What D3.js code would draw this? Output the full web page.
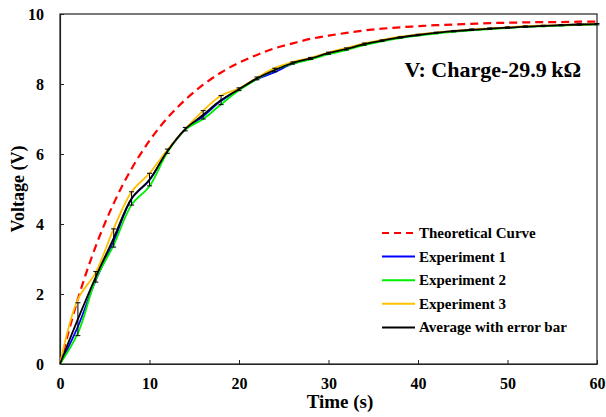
<!DOCTYPE html>
<html>
<head>
<meta charset="utf-8">
<script src="https://cdn.jsdelivr.net/npm/d3@7"></script>
<style>
  body { margin: 0; background: #fff; }
  text { font-family: "Liberation Serif", "Times New Roman", serif; font-weight: bold; fill: #000; }
</style>
</head>
<body>
<svg id="chart" width="606" height="417"></svg>
<script>
// values, one point every 2 s
const times = d3.range(0, 61, 2);
const theory = [0, 1.86, 3.37, 4.59, 5.58, 6.38, 7.03, 7.55, 7.98, 8.33, 8.61, 8.83, 9.02, 9.16, 9.29, 9.38,
  9.46, 9.53, 9.58, 9.62, 9.65, 9.68, 9.70, 9.72, 9.74, 9.75, 9.76, 9.77, 9.77, 9.78, 9.78];
const exp1 = [0, 1.07, 2.4, 3.5, 4.72, 5.25, 6.08, 6.7, 7.08, 7.52, 7.84, 8.14, 8.34, 8.58, 8.72, 8.88,
  9.0, 9.14, 9.24, 9.33, 9.4, 9.46, 9.51, 9.55, 9.58, 9.61, 9.64, 9.66, 9.68, 9.7, 9.71];
const exp2 = [0, 0.88, 2.42, 3.4, 4.55, 5.08, 6.05, 6.7, 7.0, 7.42, 7.82, 8.14, 8.4, 8.58, 8.7, 8.85,
  8.97, 9.11, 9.22, 9.31, 9.38, 9.44, 9.49, 9.53, 9.57, 9.6, 9.63, 9.65, 9.67, 9.69, 9.7];
const exp3 = [0, 1.85, 2.62, 3.87, 4.92, 5.45, 6.12, 6.72, 7.24, 7.67, 7.88, 8.18, 8.46, 8.63, 8.75, 8.9,
  9.03, 9.16, 9.26, 9.35, 9.42, 9.47, 9.52, 9.56, 9.59, 9.62, 9.65, 9.67, 9.69, 9.7, 9.72];
const average = [0, 1.28, 2.49, 3.6, 4.73, 5.27, 6.08, 6.71, 7.12, 7.54, 7.85, 8.16, 8.4, 8.6, 8.73, 8.88,
  9.0, 9.14, 9.24, 9.33, 9.4, 9.46, 9.51, 9.55, 9.58, 9.61, 9.64, 9.66, 9.68, 9.7, 9.71];
const errorBar = [0, 0.47, 0.15, 0.26, 0.19, 0.18, 0.06, 0.05, 0.12, 0.13, 0.04, 0.04, 0.05, 0.03, 0.03, 0.03,
  0.03, 0.03, 0.02, 0.02, 0.02, 0.02, 0.02, 0.02, 0.02, 0.02, 0.02, 0.02, 0.02, 0.02, 0.02];
const xTicks = [0, 10, 20, 30, 40, 50, 60];
const yTicks = [0, 2, 4, 6, 8, 10];
const legendNames = ["Theoretical Curve", "Experiment 1", "Experiment 2", "Experiment 3", "Average with error bar"];

const svg = d3.select("#chart");
const margin = {left: 60, right: 9, top: 14, bottom: 53};
const width = 606 - margin.left - margin.right;
const height = 417 - margin.top - margin.bottom;

const x = d3.scaleLinear().domain([0, 60]).range([0, width]);
const y = d3.scaleLinear().domain([0, 10]).range([height, 0]);

const g = svg.append("g").attr("transform", `translate(${margin.left},${margin.top})`);

// frame
g.append("rect").attr("width", width).attr("height", height)
  .attr("fill", "none").attr("stroke", "#222").attr("stroke-width", 1.2);

// axes with inward ticks
const xAxis = g.append("g").attr("transform", `translate(0,${height})`)
  .call(d3.axisBottom(x).tickValues(xTicks).tickSizeInner(-4).tickSizeOuter(0).tickPadding(14));
const yAxis = g.append("g")
  .call(d3.axisLeft(y).tickValues(yTicks).tickSizeInner(-4).tickSizeOuter(0).tickPadding(16));
[xAxis, yAxis].forEach(a => {
  a.select(".domain").attr("stroke", "#222").attr("stroke-width", 1.2);
  a.selectAll(".tick line").attr("stroke", "#222");
  a.selectAll("text").style("font-size", "16px").style("font-family", "Liberation Serif, serif")
    .style("font-weight", "bold").attr("fill", "#000");
});

const line = d3.line().x((d, i) => x(times[i])).y(d => y(d)).curve(d3.curveCatmullRom.alpha(0.5));

g.append("path").datum(theory).attr("d", line).attr("fill", "none")
  .attr("stroke", "#ff0000").attr("stroke-width", 2.2).attr("stroke-dasharray", "8,5");

const series = [[exp1, "#0000ff"], [exp2, "#00ee00"], [exp3, "#ffc000"], [average, "#000000"]];
series.forEach(([vals, col]) => {
  g.append("path").datum(vals).attr("d", line).attr("fill", "none")
    .attr("stroke", col).attr("stroke-width", 1.8);
});

// error bars
const eb = g.append("g").attr("stroke", "#000").attr("stroke-width", 1);
times.forEach((t, i) => {
  if (i === 0) return;
  const cx = x(t), top = y(average[i] + errorBar[i]), bot = y(average[i] - errorBar[i]);
  eb.append("line").attr("x1", cx).attr("x2", cx).attr("y1", top).attr("y2", bot);
  eb.append("line").attr("x1", cx - 2.5).attr("x2", cx + 2.5).attr("y1", top).attr("y2", top);
  eb.append("line").attr("x1", cx - 2.5).attr("x2", cx + 2.5).attr("y1", bot).attr("y2", bot);
});

// legend
const legendColors = ["#ff0000", "#0000ff", "#00ee00", "#ffc000", "#000000"];
const lg = svg.append("g").attr("transform", "translate(382,233)");
legendNames.forEach((name, i) => {
  const row = lg.append("g").attr("transform", `translate(0,${i * 23.6})`);
  row.append("line").attr("x1", 0).attr("x2", 33).attr("y1", 0).attr("y2", 0)
    .attr("stroke", legendColors[i]).attr("stroke-width", 2)
    .attr("stroke-dasharray", i === 0 ? "7,5" : null);
  row.append("text").attr("x", 37).attr("y", 5).style("font-size", "15px").text(name);
});

// title and axis labels
svg.append("text").attr("x", 581).attr("y", 77).attr("text-anchor", "end")
  .style("font-size", "22px").text("V: Charge-29.9\u2009k\u03a9");
svg.append("text").attr("x", 340).attr("y", 408).attr("text-anchor", "middle")
  .style("font-size", "19px").text("Time (s)");
svg.append("text").attr("transform", "translate(24,189) rotate(-90)").attr("text-anchor", "middle")
  .style("font-size", "18px").text("Voltage (V)");
</script>
</body>
</html>
